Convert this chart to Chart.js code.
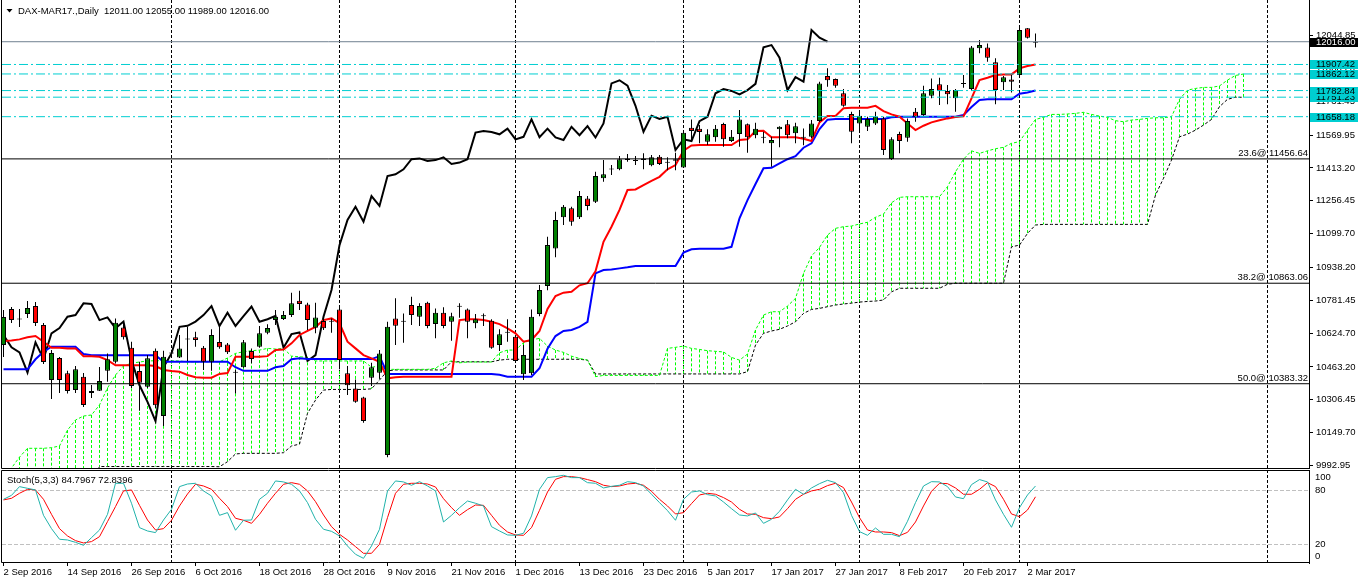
<!DOCTYPE html>
<html>
<head>
<meta charset="utf-8">
<style>
    html, body { margin: 0; padding: 0; background: #ffffff; }
    #wrap { position: relative; width: 1358px; height: 584px; overflow: hidden; }
    #mainChart { position: absolute; left: 0; top: 0; width: 1358px; height: 469px; }
    #stochChart { position: absolute; left: 0; top: 469px; width: 1358px; height: 115px; }
</style>
<script src="https://cdn.jsdelivr.net/npm/chart.js@4.4.1/dist/chart.umd.min.js"></script>
</head>
<body>
<div id="wrap">
    <canvas id="mainChart" width="1358" height="469"></canvas>
    <canvas id="stochChart" width="1358" height="115"></canvas>
</div>
<script>
// DAX-MAR17 daily bars, 2 Sep 2016 .. 3 Mar 2017 (bar index 0..129)
const opens = [
    10568,10740,10692,10716,10754,10664,10401,10506,10433,10353,
    10417,10348,10350,10445,10488,10652,10555,10444,10369,10541,
    10229,10528,10509,10595,10605,10555,10488,10582,10571,10436,
    10462,10539,10560,10627,10687,10692,10711,10780,10762,10651,
    10683,10679,10738,10433,10361,10318,10412,10436,10043,10695,
    10679,10759,10703,10770,10668,10722,10679,10751,10738,10672,
    10706,10684,10568,10627,10608,10429,10433,10716,10850,11029,
    11178,11221,11178,11268,11252,11364,11406,11407,11451,11446,
    11459,11426,11467,11438,11448,11416,11605,11601,11538,11560,
    11623,11542,11575,11622,11570,11558,11531,11598,11622,11579,
    11558,11562,11637,11852,11838,11770,11671,11626,11610,11626,
    11650,11456,11575,11558,11682,11666,11758,11813,11781,11746,
    11814,11790,11985,11989,11918,11822,11836,11857,12080,12011
];
const highs = [
    10735,10749,10740,10778,10773,10673,10544,10511,10445,10468,
    10434,10377,10463,10528,10695,10674,10584,10488,10520,10552,
    10541,10528,10616,10655,10631,10563,10643,10663,10578,10449,
    10592,10552,10659,10667,10735,10730,10818,10827,10770,10770,
    10703,10695,10745,10468,10404,10321,10483,10544,10679,10791,
    10719,10799,10767,10775,10743,10748,10722,10767,10743,10716,
    10719,10691,10643,10691,10611,10568,10738,10855,11085,11204,
    11236,11228,11303,11279,11395,11451,11427,11470,11480,11470,
    11483,11475,11475,11464,11486,11590,11645,11618,11598,11618,
    11629,11594,11690,11626,11629,11586,11562,11613,11642,11629,
    11602,11642,11825,11889,11841,11790,11682,11690,11658,11682,
    11658,11560,11586,11650,11700,11806,11841,11844,11809,11790,
    11857,11995,12024,12008,11937,11852,11857,12096,12081,12055
];
const lows = [
    10511,10673,10654,10697,10659,10477,10310,10339,10337,10339,
    10272,10315,10348,10393,10480,10595,10363,10254,10363,10267,
    10181,10528,10506,10492,10560,10449,10445,10550,10525,10337,
    10459,10481,10555,10620,10664,10687,10702,10735,10640,10624,
    10640,10627,10452,10329,10292,10197,10372,10407,10032,10568,
    10579,10664,10659,10648,10600,10648,10589,10698,10600,10648,
    10659,10550,10539,10584,10483,10401,10425,10706,10830,10987,
    11141,11138,11170,11212,11246,11348,11380,11403,11443,11427,
    11407,11422,11427,11403,11403,11413,11547,11531,11523,11538,
    11515,11537,11515,11486,11555,11531,11419,11512,11555,11531,
    11522,11555,11632,11801,11796,11706,11531,11590,11590,11618,
    11475,11451,11483,11538,11634,11663,11746,11714,11717,11682,
    11796,11781,11961,11921,11717,11785,11774,11852,12031,11989
];
const closes = [
    10702,10687,10690,10745,10673,10487,10530,10401,10348,10452,
    10282,10339,10396,10500,10674,10605,10372,10388,10505,10280,
    10512,10528,10552,10597,10592,10488,10616,10557,10533,10437,
    10581,10501,10624,10649,10703,10711,10767,10764,10687,10700,
    10648,10680,10496,10376,10297,10205,10462,10528,10655,10660,
    10680,10711,10754,10659,10722,10659,10706,10752,10679,10691,
    10707,10555,10620,10628,10492,10520,10703,10831,11045,11165,
    11228,11157,11279,11232,11375,11383,11407,11455,11459,11447,
    11451,11464,11432,11439,11455,11582,11590,11585,11574,11601,
    11550,11562,11645,11560,11601,11559,11547,11610,11570,11613,
    11559,11626,11817,11832,11806,11710,11586,11663,11647,11658,
    11499,11550,11542,11637,11658,11770,11790,11781,11765,11785,
    11815,11989,12000,11940,11785,11847,11825,12072,12035,12016
];

// Ichimoku lines
const tenkan = [
    10587,10590,10595,10605,10611,10584,10555,10555,10552,10552,
    10515,10514,10512,10496,10471,10472,10472,10472,10472,10468,
    10449,10444,10441,10425,10414,10412,10412,10430,10434,10512,
    10512,10512,10512,10515,10544,10547,10576,10616,10636,10655,
    10687,10695,10672,10584,10552,10520,10504,10488,10409,10414,
    10417,10417,10417,10417,10417,10417,10417,10687,10691,10691,
    10687,10679,10668,10648,10624,10584,10592,10635,10740,10802,
    10818,10822,10853,10863,10920,11061,11133,11213,11308,11311,
    11332,11352,11371,11407,11427,11496,11521,11523,11523,11523,
    11523,11523,11547,11550,11590,11591,11560,11560,11560,11560,
    11553,11542,11631,11661,11661,11698,11701,11701,11701,11710,
    11685,11669,11658,11626,11594,11615,11631,11641,11650,11657,
    11660,11746,11833,11844,11857,11860,11860,11889,11900,11907
];
const kijun = [
    10452,10452,10452,10452,10500,10536,10560,10560,10560,10560,
    10525,10519,10519,10519,10519,10519,10519,10519,10519,10519,
    10488,10488,10488,10488,10488,10488,10488,10488,10488,10462,
    10445,10445,10445,10445,10462,10468,10500,10505,10501,10501,
    10501,10501,10501,10501,10501,10501,10501,10515,10430,10430,
    10430,10430,10430,10430,10430,10430,10430,10430,10430,10430,
    10430,10430,10426,10417,10417,10417,10417,10457,10550,10611,
    10635,10640,10655,10679,10910,10926,10929,10934,10939,10945,
    10945,10945,10945,10945,10945,11009,11025,11028,11028,11028,
    11028,11037,11173,11260,11337,11412,11414,11435,11455,11470,
    11510,11531,11599,11644,11647,11647,11647,11647,11647,11647,
    11647,11655,11658,11658,11658,11658,11658,11658,11658,11658,
    11666,11704,11738,11741,11741,11741,11741,11768,11774,11783
];
// Senkou spans, bar index 0..155 (26 bars run past the last candle)
const senkouA = [
    9933,9981,10033,10075,10075,10075,10078,10086,10162,10210,
    10229,10234,10282,10363,10425,10468,10481,10487,10492,10493,
    10493,10493,10492,10488,10488,10488,10488,10488,10506,10528,
    10536,10541,10544,10552,10549,10552,10515,10512,10509,10492,
    10492,10492,10492,10492,10492,10492,10462,10468,10452,10452,
    10452,10452,10452,10452,10457,10483,10492,10483,10487,10487,
    10487,10487,10531,10544,10544,10579,10592,10600,10563,10544,
    10533,10515,10504,10496,10417,10423,10423,10423,10423,10423,
    10423,10423,10423,10552,10557,10563,10552,10547,10541,10538,
    10535,10509,10496,10525,10640,10711,10727,10727,10754,10791,
    10910,10993,11034,11093,11125,11133,11136,11146,11154,11178,
    11193,11247,11273,11276,11276,11276,11276,11276,11324,11395,
    11455,11495,11483,11495,11505,11512,11531,11539,11594,11645,
    11655,11669,11669,11671,11674,11679,11669,11661,11655,11639,
    11634,11642,11645,11650,11653,11653,11658,11741,11785,11793,
    11798,11798,11805,11833,11855,11862
];
const senkouB = [
    9900,9900,9900,9900,9900,9900,9900,9900,9900,9900,
    9900,9900,9988,9988,9988,9988,9988,9988,9988,9988,
    9988,9988,9988,9988,9988,9988,9988,9987,10011,10048,
    10051,10051,10051,10051,10051,10054,10086,10095,10242,10305,
    10353,10356,10356,10356,10356,10356,10359,10401,10445,10449,
    10449,10449,10449,10449,10449,10449,10488,10488,10488,10488,
    10488,10488,10496,10500,10500,10500,10500,10500,10500,10500,
    10500,10500,10500,10496,10430,10430,10430,10430,10430,10430,
    10430,10430,10430,10430,10430,10430,10430,10430,10430,10430,
    10430,10430,10430,10441,10568,10624,10635,10643,10659,10679,
    10719,10738,10743,10751,10759,10764,10768,10773,10776,10778,
    10783,10822,10839,10839,10839,10839,10839,10839,10858,10863,
    10863,10863,10863,10863,10863,10863,11037,11045,11101,11141,
    11144,11144,11144,11144,11144,11144,11144,11144,11144,11144,
    11144,11144,11144,11144,11284,11364,11451,11562,11575,11594,
    11618,11645,11706,11741,11751,11751
];
const CHIKOU_SHIFT = 26;

// Stochastic (5,3,3)
const stochK = [
    70.0,74.4,84.1,82.2,80.4,52.2,37.4,25.6,24.8,22.2,
    18.9,27.4,35.9,53.3,87.8,87.8,65.6,38.5,34.8,33.0,
    47.0,58.9,84.1,87.0,87.8,79.3,73.7,52.2,55.2,35.6,
    46.7,47.0,70.0,76.7,90.4,89.3,86.7,79.3,66.3,47.8,
    36.7,34.4,29.3,18.1,8.9,4.4,18.1,36.7,79.3,90.4,
    89.3,85.6,89.6,84.8,79.3,44.8,52.2,60.7,68.1,65.6,
    62.6,39.6,34.8,30.4,30.0,32.2,51.5,81.1,94.1,95.2,
    96.7,94.1,94.1,88.5,87.8,82.6,84.4,85.6,89.6,88.5,
    84.8,75.6,66.3,57.4,46.7,70.0,78.1,79.3,75.2,73.7,
    67.0,59.6,52.6,51.5,54.8,43.3,47.8,56.7,69.3,81.1,
    75.6,82.6,87.4,91.1,88.5,77.4,52.2,34.1,30.0,38.1,
    31.1,31.1,28.5,45.6,66.3,84.8,89.6,89.3,84.1,72.6,
    70.7,86.3,91.9,89.3,69.3,53.3,38.9,60.7,74.8,84.8
];
const stochD = [
    69.3,71.1,76.7,81.1,80.4,70.0,53.3,37.4,29.3,24.1,
    21.5,23.0,28.5,45.2,61.9,79.3,80.4,63.3,47.0,35.9,
    37.4,46.7,62.6,75.9,86.7,84.8,81.1,71.1,61.9,48.9,
    46.7,43.3,53.3,65.6,76.7,86.7,88.5,86.7,79.3,67.4,
    52.6,39.6,31.1,24.8,17.4,10.0,10.0,20.0,49.6,76.7,
    86.7,87.8,87.8,87.0,83.7,70.7,60.7,52.2,58.5,63.7,
    63.3,52.2,41.1,33.7,30.4,30.0,38.5,57.8,78.1,92.2,
    95.2,95.2,94.1,91.9,89.6,85.6,84.1,84.8,87.0,87.8,
    85.6,78.9,70.0,62.6,53.7,55.2,65.2,74.8,76.7,75.6,
    71.9,67.0,58.9,53.7,53.3,49.6,48.5,50.4,59.6,70.0,
    75.6,79.3,81.1,85.2,87.8,83.0,67.0,49.6,35.9,33.7,
    33.7,33.0,29.6,33.3,44.8,62.6,78.9,87.8,87.4,82.6,
    75.6,75.6,81.1,88.5,84.1,70.0,53.7,50.7,58.1,72.8
];

// axes and levels
const priceTicks = [9992.95, 10149.70, 10306.45, 10463.20, 10624.70, 10781.45, 10938.20,
    11099.70, 11256.45, 11413.20, 11569.95, 11731.45, 11888.20, 12044.85];
const dateBars = [0, 8, 16, 24, 32, 40, 48, 56, 64, 72, 80, 88, 96, 104, 112, 120, 128];
const dateLabels = ["2 Sep 2016", "14 Sep 2016", "26 Sep 2016", "6 Oct 2016", "18 Oct 2016",
    "28 Oct 2016", "9 Nov 2016", "21 Nov 2016", "1 Dec 2016", "13 Dec 2016", "23 Dec 2016",
    "5 Jan 2017", "17 Jan 2017", "27 Jan 2017", "8 Feb 2017", "20 Feb 2017", "2 Mar 2017"];
const monthStarts = [21, 42, 64, 85, 107, 127, 158];
const cyanLevels = [11658.18, 11751.23, 11782.84, 11862.12, 11907.42];
const lastPrice = 12016.00;
const fibLevels = [11456.64, 10863.06, 10383.32];
const fibNames = ["23.6", "38.2", "50.0"];
const stochLevels = [20, 80];

const X_MIN = -0.1875;
const X_MAX = 163.1875;
const P_MIN = 9976.2;
const P_MAX = 12215.2;
const S_MIN = -0.78;
const S_MAX = 102.56;

const FONT_FAMILY = "'Liberation Sans', Arial, sans-serif";
const FONT_SIZE = 9.5;
const FONT = FONT_SIZE + "px " + FONT_FAMILY;
const CYAN = "#00CED1";

Chart.defaults.font.family = FONT_FAMILY;
Chart.defaults.font.size = FONT_SIZE;
Chart.defaults.color = "#000000";

function pts(arr) {
    return arr.map((v, i) => ({ x: i, y: v }));
}

function levelLine(level, color, dash, order) {
    return {
        type: "line",
        data: [{ x: X_MIN, y: level }, { x: X_MAX, y: level }],
        borderColor: color,
        borderWidth: 1,
        borderDash: dash,
        pointRadius: 0,
        order: order
    };
}

function fixAxisWidth(width) {
    return function (scale) {
        scale.width = width;
        scale.paddingTop = 0;
        scale.paddingBottom = 0;
    };
}

function fixAxisHeight(height) {
    return function (scale) {
        scale.height = height;
        scale.paddingLeft = 0;
        scale.paddingRight = 0;
    };
}

// ---------- main price panel ----------
const barIdx = opens.map((o, i) => i);
const wickData = barIdx.map(i => ({ x: i, y: [lows[i], highs[i]] }));
const bodyData = barIdx.map(i => ({ x: i, y: [opens[i], closes[i]] }));
const bodyColors = barIdx.map(i => closes[i] >= opens[i] ? "#008000" : "#FF0000");
const chikouData = closes.slice(CHIKOU_SHIFT).map((c, i) => ({ x: i, y: c }));

const hatchData = [];
senkouA.forEach((a, i) => {
    hatchData.push({ x: i, y: a }, { x: i, y: senkouB[i] }, { x: i, y: null });
});

const mainDatasets = [
    {
        type: "line", data: hatchData, borderColor: "#00FF00", borderWidth: 1,
        borderDash: [3, 2], pointRadius: 0, spanGaps: false, order: 20
    },
    { type: "line", data: pts(senkouB), borderColor: "#000000", borderWidth: 1, borderDash: [3, 2], pointRadius: 0, order: 19 },
    { type: "line", data: pts(senkouA), borderColor: "#00FF00", borderWidth: 1, borderDash: [3, 2], pointRadius: 0, order: 18 },
    { type: "line", data: chikouData, borderColor: "#000000", borderWidth: 2, pointRadius: 0, order: 9 },
    { type: "line", data: pts(kijun), borderColor: "#0000FF", borderWidth: 2, pointRadius: 0, order: 8 },
    { type: "line", data: pts(tenkan), borderColor: "#FF0000", borderWidth: 2, pointRadius: 0, order: 7 },
    {
        type: "bar", data: wickData, backgroundColor: "#000000", borderWidth: 0,
        barThickness: 1, grouped: false, inflateAmount: 0, order: 6
    },
    {
        type: "bar", data: bodyData, backgroundColor: bodyColors, borderColor: "#000000",
        borderWidth: 1, borderSkipped: false, barThickness: 5, minBarLength: 1,
        grouped: false, inflateAmount: 0, order: 5
    }
];
fibLevels.forEach(lv => mainDatasets.push(levelLine(lv, "#000000", [], 2)));
cyanLevels.forEach(lv => mainDatasets.push(levelLine(lv, CYAN, [9, 3, 2, 3], 1)));
mainDatasets.push(levelLine(lastPrice, "#708090", [], 0));

const mainOverlay = {
    id: "mainOverlay",
    afterDraw(chart) {
        const ctx = chart.ctx;
        const a = chart.chartArea;
        const y = chart.scales.y;
        ctx.save();
        ctx.strokeStyle = "#000000";
        ctx.lineWidth = 1;
        ctx.beginPath();
        ctx.moveTo(a.left - 0.5, a.top);
        ctx.lineTo(a.left - 0.5, a.bottom - 0.5);
        ctx.lineTo(a.right, a.bottom - 0.5);
        ctx.stroke();

        ctx.font = FONT;
        ctx.fillStyle = "#000000";

        // symbol line
        ctx.beginPath();
        ctx.moveTo(6.5, 9);
        ctx.lineTo(12.5, 9);
        ctx.lineTo(9.5, 12.5);
        ctx.closePath();
        ctx.fill();
        ctx.textAlign = "left";
        ctx.textBaseline = "middle";
        const last = opens.length - 1;
        ctx.fillText("DAX-MAR17.,Daily  " + opens[last].toFixed(2) + " " + highs[last].toFixed(2) + " " +
            lows[last].toFixed(2) + " " + closes[last].toFixed(2), 18, 11);

        // fibonacci labels
        ctx.textAlign = "right";
        fibLevels.forEach((lv, k) => {
            ctx.fillText(fibNames[k] + "@ " + lv.toFixed(2), a.right - 1, y.getPixelForValue(lv) - 5.5);
        });

        // price tags on the right scale
        ctx.textAlign = "left";
        const tag = (lv, bg, fg) => {
            const c = Math.round(y.getPixelForValue(lv));
            ctx.fillStyle = bg;
            ctx.fillRect(a.right + 1, c - 4, chart.width - a.right - 1, 9);
            ctx.fillStyle = fg;
            ctx.fillText(lv.toFixed(2), a.right + 7, c + 0.5);
        };
        cyanLevels.forEach(lv => tag(lv, CYAN, "#000000"));
        tag(lastPrice, "#000000", "#FFFFFF");
        ctx.restore();
    }
};

new Chart(document.getElementById("mainChart"), {
    type: "bar",
    data: { datasets: mainDatasets },
    options: {
        responsive: false,
        animation: false,
        devicePixelRatio: 1,
        events: [],
        layout: { padding: { left: 2, right: 0, top: 0, bottom: 0 } },
        plugins: { legend: { display: false }, tooltip: { enabled: false } },
        scales: {
            x: {
                type: "linear", min: X_MIN, max: X_MAX, offset: false,
                afterBuildTicks: s => { s.ticks = monthStarts.map(v => ({ value: v })); },
                ticks: { display: false },
                grid: { color: "#000000", lineWidth: 1, drawTicks: false, offset: false },
                border: { display: false, dash: [3, 2] },
                afterFit: fixAxisHeight(0)
            },
            y: {
                position: "right", min: P_MIN, max: P_MAX,
                afterBuildTicks: s => { s.ticks = priceTicks.map(v => ({ value: v })); },
                ticks: { callback: v => Number(v).toFixed(2), padding: 3, color: "#000000" },
                grid: { drawOnChartArea: false, drawTicks: true, tickLength: 4, color: "#000000" },
                border: { display: true, color: "#000000" },
                afterFit: fixAxisWidth(49)
            }
        }
    },
    plugins: [mainOverlay]
});

// ---------- stochastic panel ----------
const stochOverlay = {
    id: "stochOverlay",
    afterDraw(chart) {
        const ctx = chart.ctx;
        const a = chart.chartArea;
        const y = chart.scales.y;
        ctx.save();
        ctx.strokeStyle = "#000000";
        ctx.lineWidth = 1;
        ctx.beginPath();
        ctx.moveTo(a.right, a.top + 0.5);
        ctx.lineTo(a.left - 0.5, a.top + 0.5);
        ctx.lineTo(a.left - 0.5, a.bottom - 0.5);
        ctx.lineTo(a.right, a.bottom - 0.5);
        ctx.stroke();

        ctx.font = FONT;
        ctx.fillStyle = "#000000";
        ctx.textAlign = "left";
        ctx.textBaseline = "middle";
        const last = stochK.length - 1;
        ctx.fillText("Stoch(5,3,3) " + stochK[last].toFixed(4).replace("84.8000", "84.7967") + " " +
            stochD[last].toFixed(4).replace("72.8000", "72.8396"), 7, 11.5);

        const x = a.right + 6;
        ctx.fillText("100", x, y.getPixelForValue(100) + 5);
        ctx.fillText("80", x, y.getPixelForValue(80));
        ctx.fillText("20", x, y.getPixelForValue(20));
        ctx.fillText("0", x, y.getPixelForValue(0) - 6);
        ctx.restore();
    }
};

new Chart(document.getElementById("stochChart"), {
    type: "line",
    data: {
        datasets: [
            { data: pts(stochD), borderColor: "#FF0000", borderWidth: 1, pointRadius: 0, order: 2 },
            { data: pts(stochK), borderColor: "#20B2AA", borderWidth: 1, pointRadius: 0, order: 1 }
        ]
    },
    options: {
        responsive: false,
        animation: false,
        devicePixelRatio: 1,
        events: [],
        layout: { padding: { left: 2, right: 0, top: 1, bottom: 0 } },
        plugins: { legend: { display: false }, tooltip: { enabled: false } },
        scales: {
            x: {
                type: "linear", min: X_MIN, max: X_MAX, offset: false, position: "bottom",
                afterBuildTicks: s => { s.ticks = dateBars.map(v => ({ value: v })); },
                ticks: {
                    callback: (v, i) => dateLabels[i], align: "start", autoSkip: false,
                    maxRotation: 0, padding: 1, color: "#000000"
                },
                grid: { drawOnChartArea: false, drawTicks: true, tickLength: 3, color: "#000000", offset: false },
                border: { display: false },
                afterFit: fixAxisHeight(21)
            },
            xg: {
                type: "linear", min: X_MIN, max: X_MAX, offset: false, position: "bottom",
                afterBuildTicks: s => { s.ticks = monthStarts.map(v => ({ value: v })); },
                ticks: { display: false },
                grid: { color: "#000000", lineWidth: 1, drawTicks: false, offset: false },
                border: { display: false, dash: [3, 2] },
                afterFit: fixAxisHeight(0)
            },
            y: {
                position: "right", min: S_MIN, max: S_MAX,
                afterBuildTicks: s => { s.ticks = stochLevels.map(v => ({ value: v })); },
                ticks: { display: false },
                grid: { color: "#C0C0C0", drawTicks: false },
                border: { display: true, color: "#000000", dash: [4, 2] },
                afterFit: fixAxisWidth(49)
            }
        }
    },
    plugins: [stochOverlay]
});
</script>
</body>
</html>
